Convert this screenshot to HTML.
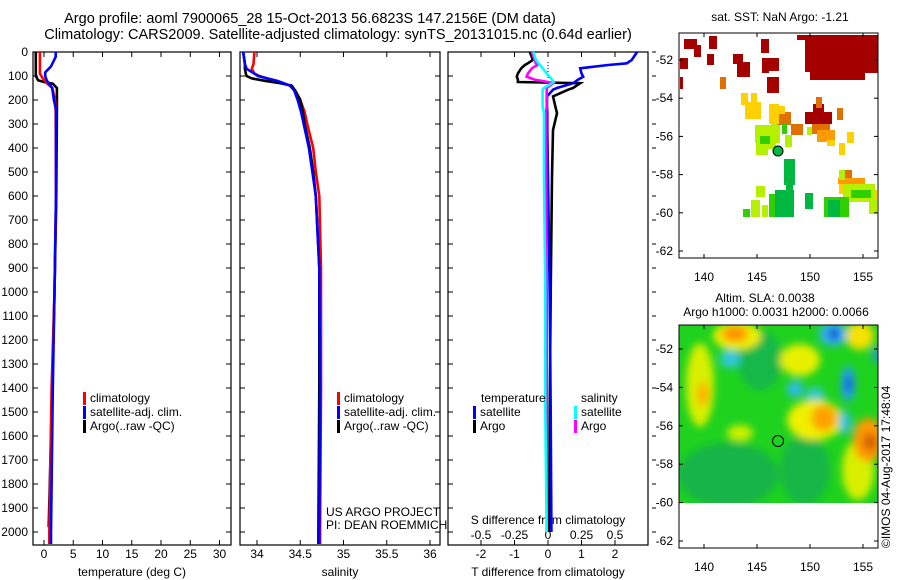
<!DOCTYPE html>
<html><head><meta charset="utf-8">
<style>
html,body{margin:0;padding:0;background:#fff;}
svg{display:block;font-family:"Liberation Sans",sans-serif;}
text{font-size:12px;fill:#000;}
</style></head>
<body>
<svg id="fig" width="900" height="580" viewBox="0 0 900 580" xmlns="http://www.w3.org/2000/svg">
<defs>
<filter id="blur" x="-20%" y="-20%" width="140%" height="140%"><feGaussianBlur stdDeviation="4"/></filter>
<clipPath id="slaClip"><rect x="679" y="325" width="199" height="178"/></clipPath>
</defs>
<g>
<text x="310" y="23" text-anchor="middle" style="font-size:14.5px">Argo profile: aoml 7900065_28 15-Oct-2013 56.6823S 147.2156E (DM data)</text>
<text x="338" y="39" text-anchor="middle" style="font-size:14.5px">Climatology: CARS2009. Satellite-adjusted climatology: synTS_20131015.nc (0.64d earlier)</text>
</g>
<g id="axes"></g>
<g id="series"></g>
<g id="legends"></g>

<!-- SST map -->
<g>
<text x="780" y="21" text-anchor="middle">sat. SST: NaN Argo: -1.21</text>
<g>
<g fill="#a50000">
<rect x="684" y="39" width="13" height="10"/><rect x="694" y="45" width="7" height="12"/>
<rect x="709" y="36" width="8" height="13"/><rect x="707" y="54" width="7" height="11"/>
<rect x="680" y="58" width="8" height="11"/><rect x="733" y="54" width="10" height="10"/><rect x="737" y="62" width="13" height="15"/>
<rect x="761" y="39" width="8" height="14"/><rect x="762" y="58" width="7" height="15"/><rect x="769" y="58" width="10" height="13"/>
<rect x="767" y="77" width="12" height="16"/>
<rect x="805" y="35" width="73" height="23"/><rect x="810" y="58" width="55" height="22"/><rect x="805" y="58" width="8" height="14"/>
<rect x="864" y="58" width="14" height="15"/><rect x="797" y="35" width="10" height="5"/>
<rect x="805" y="112" width="27" height="12"/><rect x="813" y="104" width="11" height="9"/>
<rect x="680" y="77" width="3" height="12"/>
</g>
<g fill="#e07000">
<rect x="720" y="77" width="6" height="12"/><rect x="816" y="97" width="6" height="11"/><rect x="837" y="108" width="6" height="12"/>
<rect x="791" y="124" width="12" height="11"/><rect x="812" y="124" width="18" height="10"/><rect x="776" y="112" width="15" height="13"/>
<rect x="845" y="170" width="7" height="10"/>
</g>
<g fill="#ff9a00">
<rect x="817" y="130" width="18" height="12"/><rect x="845" y="178" width="20" height="10"/><rect x="838" y="178" width="9" height="6"/>
</g>
<g fill="#ffd000">
<rect x="741" y="93" width="7" height="12"/><rect x="745" y="102" width="16" height="17"/><rect x="751" y="93" width="6" height="10"/>
<rect x="769" y="104" width="10" height="20"/><rect x="779" y="106" width="6" height="8"/><rect x="847" y="132" width="7" height="11"/>
<rect x="839" y="143" width="6" height="12"/><rect x="827" y="140" width="8" height="6"/><rect x="839" y="184" width="6" height="10"/>
<rect x="870" y="190" width="7" height="24"/>
</g>
<g fill="#b4f000">
<rect x="755" y="125" width="25" height="18"/><rect x="756" y="143" width="12" height="12"/><rect x="768" y="143" width="8" height="6"/>
<rect x="785" y="135" width="7" height="12"/><rect x="771" y="124" width="6" height="6"/><rect x="807" y="127" width="5" height="8"/>
<rect x="756" y="186" width="9" height="11"/><rect x="751" y="200" width="9" height="17"/><rect x="762" y="205" width="6" height="12"/>
<rect x="843" y="184" width="32" height="18"/><rect x="869" y="200" width="8" height="14"/>
<rect x="839" y="170" width="6" height="10"/>
</g>
<g fill="#30d000">
<rect x="760" y="136" width="10" height="8"/><rect x="782" y="124" width="5" height="10"/><rect x="851" y="190" width="20" height="8"/>
<rect x="743" y="209" width="7" height="8"/><rect x="769" y="194" width="12" height="23"/><rect x="824" y="197" width="25" height="20"/>
</g>
<g fill="#00b840">
<rect x="784" y="159" width="11" height="26"/><rect x="786" y="185" width="7" height="10"/><rect x="775" y="190" width="19" height="27"/>
<rect x="805" y="193" width="8" height="16"/><rect x="828" y="200" width="12" height="17"/>
</g>
</g>
<circle cx="778" cy="151" r="5" fill="#00b840" stroke="#000" stroke-width="1"/>
<rect x="679" y="33" width="199" height="225" fill="none" stroke="#000"/>
<g id="sstTicks"></g>
</g>

<!-- SLA map -->
<g>
<text x="765" y="302" text-anchor="middle">Altim. SLA: 0.0038</text>
<text x="776" y="316" text-anchor="middle">Argo h1000: 0.0031 h2000: 0.0066</text>
<g clip-path="url(#slaClip)">
<rect x="679" y="325" width="199" height="178" fill="#1ed21e"/>
<g filter="url(#blur)">
<ellipse cx="728" cy="475" rx="50" ry="32" fill="#12b44a"/>
<ellipse cx="760" cy="360" rx="22" ry="30" fill="#14b848"/>
<ellipse cx="805" cy="470" rx="25" ry="35" fill="#16b646"/>
<ellipse cx="737" cy="336" rx="24" ry="14" fill="#f0f000"/>
<ellipse cx="735" cy="334" rx="13" ry="8" fill="#ff9000"/>
<ellipse cx="700" cy="385" rx="14" ry="42" fill="#d8f000"/>
<ellipse cx="703" cy="394" rx="6" ry="12" fill="#ffb000"/>
<ellipse cx="730" cy="359" rx="10" ry="9" fill="#30c8e0"/>
<ellipse cx="800" cy="360" rx="20" ry="16" fill="#e8f000"/>
<ellipse cx="833" cy="334" rx="14" ry="12" fill="#30b0f0"/>
<ellipse cx="834" cy="334" rx="5" ry="6" fill="#1030d0"/>
<ellipse cx="860" cy="336" rx="14" ry="14" fill="#f8e000"/>
<ellipse cx="848" cy="384" rx="7" ry="18" fill="#20a0f0"/>
<ellipse cx="849" cy="384" rx="3" ry="8" fill="#1040d8"/>
<ellipse cx="795" cy="389" rx="8" ry="8" fill="#30b8f0"/>
<ellipse cx="815" cy="395" rx="10" ry="8" fill="#30c8c8"/>
<ellipse cx="815" cy="420" rx="28" ry="20" fill="#f0f000"/>
<ellipse cx="824" cy="418" rx="13" ry="13" fill="#ffa000"/>
<ellipse cx="845" cy="422" rx="6" ry="12" fill="#30c0e0"/>
<ellipse cx="858" cy="470" rx="16" ry="30" fill="#d8f000"/>
<ellipse cx="868" cy="440" rx="15" ry="22" fill="#ff9800"/>
<ellipse cx="870" cy="442" rx="7" ry="9" fill="#d06000"/>
<ellipse cx="740" cy="433" rx="13" ry="8" fill="#d0f000"/>
<ellipse cx="877" cy="355" rx="4" ry="8" fill="#2090f0"/>
</g>
</g>
<circle cx="778" cy="441" r="5.5" fill="none" stroke="#000"/>
<rect x="679" y="325" width="199" height="223" fill="none" stroke="#000"/>
<g id="slaTicks"></g>
<text transform="translate(890,548) rotate(-90)">©IMOS 04-Aug-2017 17:48:04</text>
</g>
</svg>

<script>
// ---------- data ----------
const depthTicks = [0,100,200,300,400,500,600,700,800,900,1000,1100,1200,1300,1400,1500,1600,1700,1800,1900,2000];
const tempTicks = [0,5,10,15,20,25,30];
const salTicks = [34,34.5,35,35.5,36];
const salTickLabels = ["34","34.5","35","35.5","36"];
const tdiffTicks = [-2,-1,0,1,2];
const sdiffTicks = [-0.5,-0.25,0,0.25,0.5];
const sdiffTickLabels = ["-0.5","-0.25","0","0.25","0.5"];

const climDepth = [0,90,110,130,150,200,250,600,1000,1400,2000,2050];
const climTemp  = [-0.7,-0.7,-0.2,0.5,1.4,1.9,2.0,2.05,1.8,1.3,0.9,0.9];
const satDepth  = [0,20,60,85,100,120,150,200,240,600,1000,1400,2000,2050];
const satTemp   = [2.0,2.0,1.2,0.2,0.2,0.5,1.4,1.7,2.05,2.05,1.8,1.5,1.2,1.2];
const argoDepth = [0,100,118,125,132,150,240,600,1000,1400,1980];
const argoTemp  = [-1.4,-1.4,-1.0,0.0,1.5,2.2,2.2,2.1,1.8,1.4,0.8];

const sDepth     = [0,50,70,90,100,110,120,130,140,160,200,250,300,400,500,600,900,1400,2000,2050];
const climSal    = [33.97,33.96,33.94,33.97,34.03,34.11,34.21,34.30,34.38,34.44,34.50,34.55,34.58,34.65,34.68,34.72,34.74,34.74,34.73,34.73];
const satSal     = [33.84,33.86,33.88,33.97,34.01,34.12,34.23,34.31,34.38,34.43,34.47,34.51,34.54,34.60,34.64,34.68,34.72,34.73,34.72,34.72];
const argoSal    = [33.84,33.86,33.86,33.87,33.88,33.94,34.09,34.27,34.40,34.44,34.50,34.53,34.55,34.61,34.65,34.68,34.72,34.72,34.71,34.71];

const dDepth     = [0,33,47,54,68,89,103,115,125,130,150,157,185,228,255,325,520,1000,1500,2000];
const satTdiff   = [2.66,2.5,2.35,1.8,0.96,1.0,1.05,0.9,0.8,0.75,0.27,0.15,-0.03,-0.03,-0.02,-0.02,0.0,0.05,0.08,0.1];
const argoTdiff  = [-0.54,-0.45,-0.6,-0.69,-0.8,-0.9,-0.93,-0.9,-0.9,0.96,0.75,0.6,0.15,0.22,0.27,0.15,0.12,0.08,0.05,0.04];
const satSdiff   = [-0.11,-0.09,-0.07,-0.06,-0.04,-0.01,0.01,0.03,0.04,0.03,-0.03,-0.04,-0.04,-0.04,-0.03,-0.03,-0.03,-0.02,-0.02,-0.01];
const argoSdiff  = [-0.12,-0.1,-0.09,-0.08,-0.12,-0.15,-0.16,-0.1,0.0,0.04,-0.01,-0.01,-0.01,-0.01,-0.015,-0.015,-0.015,-0.01,-0.01,-0.01];

const mapLonTicks = [140,145,150,155];
const mapLatTicks = [-52,-54,-56,-58,-60,-62];

// ---------- scales ----------
const yD = d => 52 + 0.24*d;
const xT = t => 44 + 5.85*t;
const xS = s => 257 + 86.5*(s-34);
const xTd = t => 548 + 33.5*t;
const xSd = s => 548 + 134*s;
const mX = lon => 704 + (lon-140)*10.6;
const mY1 = lat => 60 + (-52-lat)*19.1;
const mY2 = lat => 349 + (-52-lat)*19.2;

const NS = "http://www.w3.org/2000/svg";
function mk(tag, attrs, parent){ const e=document.createElementNS(NS,tag); for(const k in attrs) e.setAttribute(k,attrs[k]); parent.appendChild(e); return e; }
const axesG = document.getElementById('axes');
const seriesG = document.getElementById('series');
const legendsG = document.getElementById('legends');

const panels = [
 {x0:33,x1:231,name:'temperature-panel'},
 {x0:240,x1:440,name:'salinity-panel'},
 {x0:448,x1:648,name:'difference-panel'}
];
const pTop=52, pBot=545;
panels.forEach(p=>{
  const r = mk('rect',{x:p.x0,y:pTop,width:p.x1-p.x0,height:pBot-pTop,fill:'none',stroke:'#000','stroke-width':1.2},axesG);
  
  
  depthTicks.forEach(d=>{
    mk('line',{x1:p.x0,x2:p.x0+5,y1:yD(d),y2:yD(d),stroke:'#000'},axesG);
    if(p.name==='difference-panel') mk('line',{x1:p.x1+4,x2:p.x1+8,y1:yD(d),y2:yD(d),stroke:'#000'},axesG);
    else mk('line',{x1:p.x1-5,x2:p.x1,y1:yD(d),y2:yD(d),stroke:'#000'},axesG);
  });
});
depthTicks.forEach(d=>{
  const t = mk('text',{x:28,y:yD(d)+4,'text-anchor':'end'},axesG);
  t.textContent = d;
  
  
});
function xTicks(vals, labels, fx, ty){
  vals.forEach((v,i)=>{
    mk('line',{x1:fx(v),x2:fx(v),y1:pBot,y2:pBot-5,stroke:'#000'},axesG);
    mk('line',{x1:fx(v),x2:fx(v),y1:pTop,y2:pTop+5,stroke:'#000'},axesG);
    const t = mk('text',{x:fx(v),y:ty,'text-anchor':'middle'},axesG);
    t.textContent = labels[i];
    
    
  });
}
xTicks(tempTicks, tempTicks.map(String), xT, 558);
xTicks(salTicks, salTickLabels, xS, 558);
xTicks(tdiffTicks, tdiffTicks.map(String), xTd, 558);
sdiffTicks.forEach((v,i)=>{
  const t = mk('text',{x:xSd(v),y:539,'text-anchor':'middle'},axesG);
  t.textContent = sdiffTickLabels[i];
  
  
});
[['temperature (deg C)',132,'x-axis-title-temperature'],['salinity',340,'x-axis-title-salinity'],['T difference from climatology',548,'x-axis-title-tdiff']].forEach(a=>{
  const t=mk('text',{x:a[1],y:576,'text-anchor':'middle'},axesG); t.textContent=a[0];
  
  
});
{const t=mk('text',{x:548,y:524,'text-anchor':'middle'},axesG); t.textContent='S difference from climatology';

}
mk('line',{x1:548,x2:548,y1:62,y2:78,stroke:'#000','stroke-dasharray':'1,2'},axesG);

function line(xs, ds, fx, color, name, w){
  const pts = xs.map((v,i)=>fx(v).toFixed(1)+','+yD(ds[i]).toFixed(1)).join(' ');
  const pl = mk('polyline',{points:pts,fill:'none',stroke:color,'stroke-width':w||2.6,'stroke-linejoin':'miter'},seriesG);
  
  
}
line(argoTemp, argoDepth, xT, '#000000','temp-argo-line');
line(climTemp, climDepth, xT, '#ff0000','temp-climatology-line');
line(satTemp, satDepth, xT, '#0000ff','temp-satellite-line');
line(climSal, sDepth, xS, '#ff0000','sal-climatology-line');
line(argoSal, sDepth, xS, '#000000','sal-argo-line');
line(satSal, sDepth, xS, '#0000ff','sal-satellite-line');
line(argoTdiff, dDepth, xTd, '#000000','tdiff-argo-line');
line(satTdiff, dDepth, xTd, '#0000ff','tdiff-satellite-line');
line(argoSdiff, dDepth, xSd, '#ff00ff','sdiff-argo-line');
line(satSdiff, dDepth, xSd, '#00ffff','sdiff-satellite-line');

function legend(x, y, color, label, name){
  const g = mk('g',{},legendsG);
  
  
  mk('rect',{x:x,y:y-10,width:3,height:13,fill:color},g);
  const t = mk('text',{x:x+7,y:y},g); t.textContent=label;
}
legend(83,402,'#ff0000','climatology','legend-temp-climatology');
legend(83,416,'#0000ff','satellite-adj. clim.','legend-temp-satellite');
legend(83,430,'#000000','Argo(..raw -QC)','legend-temp-argo');
legend(337,402,'#ff0000','climatology','legend-sal-climatology');
legend(337,416,'#0000ff','satellite-adj. clim.','legend-sal-satellite');
legend(337,430,'#000000','Argo(..raw -QC)','legend-sal-argo');
{const t=mk('text',{x:481,y:402},legendsG); t.textContent='temperature';

}
{const t=mk('text',{x:581,y:402},legendsG); t.textContent='salinity';

}
legend(473,416,'#0000ff','satellite','legend-tdiff-satellite');
legend(473,430,'#000000','Argo','legend-tdiff-argo');
legend(574,416,'#00ffff','satellite','legend-sdiff-satellite');
legend(574,430,'#ff00ff','Argo','legend-sdiff-argo');
{const t=mk('text',{x:326,y:516},legendsG); t.textContent='US ARGO PROJECT';

}
{const t=mk('text',{x:326,y:529},legendsG); t.textContent='PI: DEAN ROEMMICH';

}

function mapTicks(gid, y0, y1, fy, labY){
  const g = document.getElementById(gid);
  mapLonTicks.forEach(l=>{
    mk('line',{x1:mX(l),x2:mX(l),y1:y1,y2:y1-4,stroke:'#000'},g);
    mk('line',{x1:mX(l),x2:mX(l),y1:y0,y2:y0+4,stroke:'#000'},g);
    const t=mk('text',{x:mX(l),y:labY,'text-anchor':'middle'},g); t.textContent=l;
    
    
  });
  mapLatTicks.forEach(l=>{
    mk('line',{x1:679,x2:683,y1:fy(l),y2:fy(l),stroke:'#000'},g);
    mk('line',{x1:874,x2:878,y1:fy(l),y2:fy(l),stroke:'#000'},g);
    const t=mk('text',{x:673,y:fy(l)+4,'text-anchor':'end'},g); t.textContent=l;
    
    
  });
}
mapTicks('sstTicks',33,258,mY1,281);
mapTicks('slaTicks',325,548,mY2,571);
</script>
</body></html>
